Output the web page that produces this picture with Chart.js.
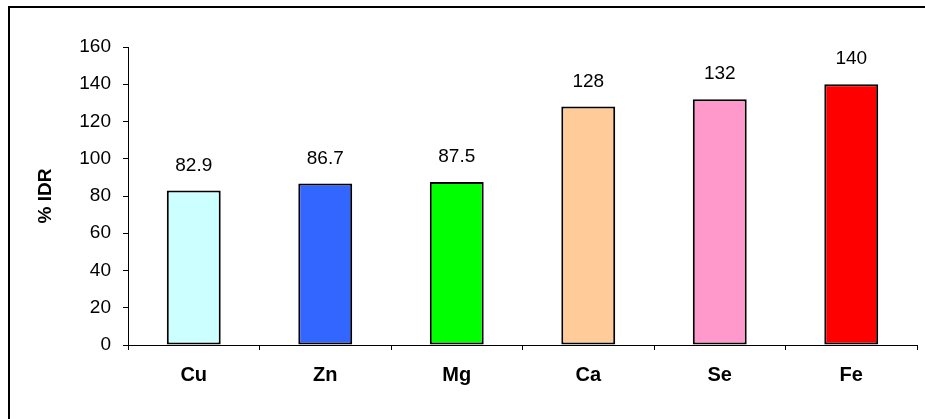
<!DOCTYPE html>
<html>
<head>
<meta charset="utf-8">
<script src="https://cdn.jsdelivr.net/npm/chart.js@4"></script>
<style>
  html, body { margin: 0; padding: 0; background: #fff; }
  #wrap { width: 925px; height: 419px; position: relative; }
</style>
</head>
<body>
<div id="wrap"><canvas id="c" width="925" height="419"></canvas></div>
<script>
// Minerals and their share of the recommended daily intake (% IDR)
const minerals = ['Cu', 'Zn', 'Mg', 'Ca', 'Se', 'Fe'];
const idrPercent = [82.9, 86.7, 87.5, 128, 132, 140];
const barColors = ['#CCFFFF', '#3366FF', '#00FF00', '#FFCC99', '#FF99CC', '#FF0000'];
const yTicks = [0, 20, 40, 60, 80, 100, 120, 140, 160];

const FONT = '"Liberation Sans", Arial, Helvetica, sans-serif';

// Outer frame around the chart
const framePlugin = {
  id: 'frame',
  beforeDraw(chart) {
    const ctx = chart.ctx;
    ctx.save();
    ctx.fillStyle = '#fff';
    ctx.fillRect(0, 0, chart.width, chart.height);
    ctx.strokeStyle = '#000';
    ctx.lineWidth = 2;
    ctx.beginPath();
    ctx.moveTo(9, chart.height);
    ctx.lineTo(9, 7);
    ctx.lineTo(chart.width, 7);
    ctx.stroke();
    ctx.restore();
  }
};

// Value printed above each bar
const valueLabels = {
  id: 'valueLabels',
  afterDatasetsDraw(chart) {
    const ctx = chart.ctx;
    const ds = chart.data.datasets[0];
    const meta = chart.getDatasetMeta(0);
    ctx.save();
    ctx.font = '19px ' + FONT;
    ctx.fillStyle = '#000';
    ctx.textAlign = 'center';
    ctx.textBaseline = 'alphabetic';
    meta.data.forEach((bar, i) => {
      ctx.fillText(String(ds.data[i]), bar.x, bar.y - 20);
    });
    ctx.restore();
  }
};

new Chart(document.getElementById('c'), {
  type: 'bar',
  data: {
    labels: minerals,
    datasets: [{
      data: idrPercent,
      backgroundColor: barColors,
      borderColor: '#000',
      borderWidth: 2,
      borderSkipped: false,
      categoryPercentage: 1,
      barPercentage: 0.41
    }]
  },
  options: {
    responsive: false,
    animation: false,
    devicePixelRatio: 1,
    layout: { padding: { left: 0, right: 8, top: 47, bottom: 0 } },
    plugins: { legend: { display: false }, tooltip: { enabled: false } },
    scales: {
      x: {
        offset: true,
        grid: { display: true, drawOnChartArea: false, drawTicks: true, tickLength: 5, color: '#000', offset: true },
        border: { display: true, color: '#000', width: 1 },
        ticks: { color: '#000', font: { family: FONT, size: 20, weight: 'bold' }, padding: 13 },
        afterFit(scale) { scale.height = 74; }
      },
      y: {
        min: 0,
        max: 160,
        afterBuildTicks(scale) { scale.ticks = yTicks.map(v => ({ value: v })); },
        grid: { display: true, drawOnChartArea: false, drawTicks: true, tickLength: 5, color: '#000' },
        border: { display: true, color: '#000', width: 1 },
        ticks: { color: '#000', font: { family: FONT, size: 19 }, padding: 12 },
        title: {
          display: true,
          text: '% IDR',
          color: '#000',
          font: { family: FONT, size: 19, weight: 'bold' },
          padding: { top: 34, bottom: 0 }
        },
        afterFit(scale) { scale.width = 128; }
      }
    }
  },
  plugins: [framePlugin, valueLabels]
});
</script>
</body>
</html>
